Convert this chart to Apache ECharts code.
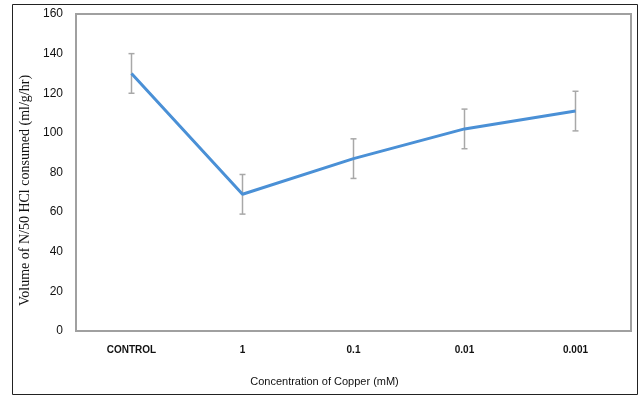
<!DOCTYPE html>
<html>
<head>
<meta charset="utf-8">
<script src="https://cdn.jsdelivr.net/npm/echarts@6/dist/echarts.min.js"></script>
<style>
  html, body { margin: 0; padding: 0; background: #fff; }
  #chart { width: 642px; height: 398px; }
</style>
</head>
<body>
<div id="chart"></div>
<script>
// values
const categories = ['CONTROL', '1', '0.1', '0.01', '0.001'];
const meanValues = [130, 69, 87, 102, 111];
const errorValues = [10, 10, 10, 10, 10];
const yTicks = { min: 0, max: 160, interval: 20 };

const errorData = categories.map((c, i) => [i, meanValues[i] - errorValues[i], meanValues[i] + errorValues[i]]);

const chart = echarts.init(document.getElementById('chart'));

chart.setOption({
  animation: false,
  backgroundColor: '#fff',
  grid: {
    left: 76, right: 11, top: 14, bottom: 67,
    show: true,
    borderColor: '#a0a0a0',
    borderWidth: 2
  },
  graphic: [{
    type: 'rect',
    shape: { x: 12.5, y: 4.5, width: 625, height: 390 },
    style: { fill: 'none', stroke: '#222', lineWidth: 1 },
    silent: true
  }],
  xAxis: {
    type: 'category',
    data: categories,
    name: 'Concentration of Copper (mM)',
    nameLocation: 'middle',
    nameGap: 45,
    nameTextStyle: {
      fontFamily: 'Liberation Sans',
      fontSize: 11, color: '#111',
      padding: [0, 58, 0, 0]
    },
    axisLine: { show: false },
    axisTick: { show: false },
    axisLabel: {
      margin: 14,
      fontFamily: 'Liberation Sans',
      fontSize: 10, color: '#111', fontWeight: 'bold'
    },
    splitLine: { show: false }
  },
  yAxis: {
    type: 'value',
    min: yTicks.min, max: yTicks.max, interval: yTicks.interval,
    name: 'Volume of N/50 HCl consumed (ml/g/hr)',
    nameLocation: 'middle',
    nameGap: 37,
    nameTextStyle: {
      fontFamily: 'Liberation Serif',
      fontSize: 14, color: '#111',
      padding: [0, 36, 0, 0]
    },
    axisLine: { show: false },
    axisTick: { show: false },
    axisLabel: {
      margin: 13,
      fontFamily: 'Liberation Sans',
      fontSize: 12, color: '#111'
    },
    splitLine: { show: false }
  },
  series: [
    {
      type: 'line',
      data: meanValues,
      symbol: 'none',
      lineStyle: { color: '#4a90d6', width: 3 },
      z: 3
    },
    {
      type: 'custom',
      data: errorData,
      z: 2,
      renderItem: function (params, api) {
        const x = api.value(0);
        const lo = api.coord([x, api.value(1)]);
        const hi = api.coord([x, api.value(2)]);
        const cap = 3;
        const style = { stroke: '#a8a8a8', lineWidth: 1.5 };
        return {
          type: 'group',
          children: [
            { type: 'line', shape: { x1: lo[0], y1: lo[1], x2: hi[0], y2: hi[1] }, style: style },
            { type: 'line', shape: { x1: lo[0] - cap, y1: lo[1], x2: lo[0] + cap, y2: lo[1] }, style: style },
            { type: 'line', shape: { x1: hi[0] - cap, y1: hi[1], x2: hi[0] + cap, y2: hi[1] }, style: style }
          ]
        };
      }
    }
  ]
});
</script>
</body>
</html>
